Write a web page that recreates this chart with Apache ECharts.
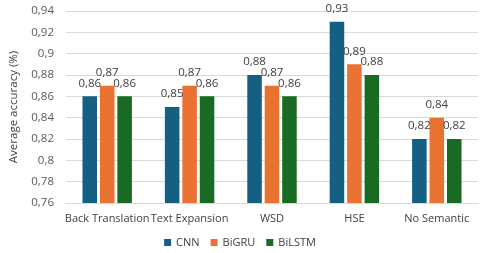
<!DOCTYPE html>
<html><head><meta charset="utf-8">
<script src="https://cdn.jsdelivr.net/npm/echarts@6/dist/echarts.min.js"></script>
<style>html,body{margin:0;padding:0;background:#fff}#c{width:480px;height:253px}</style>
</head><body><div id="c"></div>
<script>
var categories = ['Back Translation', 'Text Expansion', 'WSD', 'HSE', 'No Semantic'];
var cnn = [0.86, 0.85, 0.88, 0.93, 0.82];
var bigru = [0.87, 0.87, 0.87, 0.89, 0.84];
var bilstm = [0.86, 0.86, 0.86, 0.88, 0.82];
var seriesNames = ['CNN', 'BiGRU', 'BiLSTM'];
var colors = ['#156082', '#E97132', '#196B24'];
var fmt = function (v) { return String(v).replace('.', ','); };
var font = 'Aptos, "Open Sans", "Noto Sans", sans-serif';
function mk(name, data, color) {
  return {
    name: name, type: 'bar', data: data,
    barGap: '20%', barCategoryGap: '40%',
    itemStyle: { color: color },
    label: { show: true, position: 'top', distance: 7, color: '#404040', fontSize: 11.5, fontFamily: font,
      formatter: function (p) { return fmt(p.value); } }
  };
}
var chart = echarts.init(document.getElementById('c'), null, { renderer: 'canvas' });
chart.setOption({
  animation: false,
  textStyle: { fontFamily: font },
  grid: { left: 55, right: 2, top: 11, bottom: 50 },
  legend: {
    data: seriesNames, bottom: 0, left: 'center', itemWidth: 7, itemHeight: 7, itemGap: 11,
    icon: 'rect', textStyle: { color: '#404040', fontSize: 11, fontFamily: font }
  },
  xAxis: {
    type: 'category', data: categories,
    axisLine: { lineStyle: { color: '#d9d9d9' } }, axisTick: { show: false },
    axisLabel: { color: '#404040', fontSize: 11, margin: 10, fontFamily: font, interval: 0 }
  },
  yAxis: {
    type: 'value', min: 0.76, max: 0.94, interval: 0.02,
    name: 'Average accuracy (%)', nameLocation: 'middle', nameGap: 46, nameRotate: 90,
    nameTextStyle: { color: '#404040', fontSize: 11.5, fontFamily: font },
    axisLabel: { color: '#595959', fontSize: 11.5, margin: 12, fontFamily: font,
      formatter: function (v) { return fmt(Math.round(v * 100) / 100); } },
    splitLine: { lineStyle: { color: '#d9d9d9' } },
    axisLine: { show: false }, axisTick: { show: false }
  },
  series: [mk('CNN', cnn, colors[0]), mk('BiGRU', bigru, colors[1]), mk('BiLSTM', bilstm, colors[2])]
});
</script></body></html>
